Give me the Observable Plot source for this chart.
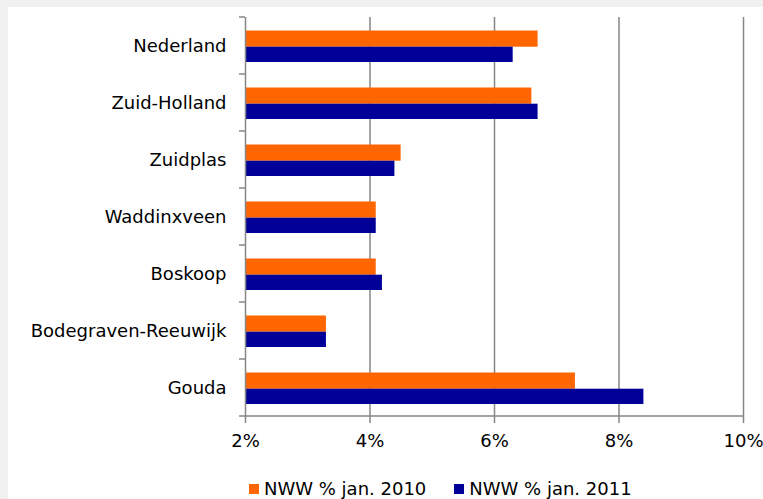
<!DOCTYPE html>
<html><head><meta charset="utf-8">
<script src="https://cdn.jsdelivr.net/npm/d3@7"></script>
<script src="https://cdn.jsdelivr.net/npm/@observablehq/plot@0.6"></script>
<style>
html,body{margin:0;padding:0;background:#f0f0f0;width:763px;height:499px;overflow:hidden;font-family:"DejaVu Sans",Verdana,sans-serif;}
#panel{position:absolute;left:8px;top:7px;width:755px;height:492px;background:#fff;overflow:hidden;}
#chart{position:absolute;left:0;top:0;}
#legend{position:absolute;left:241px;top:471px;display:flex;align-items:center;font-size:18px;color:#000;white-space:nowrap;}
.item{display:flex;align-items:center;margin-right:28px;}
.sw{width:10px;height:10px;margin-right:5px;}
</style></head><body>
<div id="panel"><div id="chart"></div><div id="legend"></div></div>
<script>
const regions = ["Nederland","Zuid-Holland","Zuidplas","Waddinxveen","Boskoop","Bodegraven-Reeuwijk","Gouda"];
const nww2010 = [6.7, 6.6, 4.5, 4.1, 4.1, 3.3, 7.3];
const nww2011 = [6.3, 6.7, 4.4, 4.1, 4.2, 3.3, 8.4];
const seriesNames = ["NWW % jan. 2010", "NWW % jan. 2011"];
const seriesColors = ["#ff6600", "#000099"];
const xTicks = [2, 4, 6, 8, 10];
const gridTicks = [4, 6, 8, 10];

const rows2010 = regions.map((r, i) => ({region: r, value: nww2010[i]}));
const rows2011 = regions.map((r, i) => ({region: r, value: nww2011[i]}));
const axisColor = "#868686";

const plot = Plot.plot({
  width: 755, height: 450,
  marginLeft: 237, marginRight: 20, marginTop: 10, marginBottom: 41,
  style: {fontFamily: '"DejaVu Sans", Verdana, sans-serif', fontSize: "18px", color: "#000", background: "transparent", overflow: "visible"},
  x: {domain: [xTicks[0], xTicks[xTicks.length - 1]]},
  y: {domain: regions, padding: 0},
  marks: [
    Plot.ruleX(gridTicks, {stroke: axisColor, strokeWidth: 1.5}),
    Plot.barX(rows2010, {x1: xTicks[0], x2: "value", y: "region", fill: seriesColors[0], insetTop: 13.5, insetBottom: 27.3}),
    Plot.barX(rows2011, {x1: xTicks[0], x2: "value", y: "region", fill: seriesColors[1], insetTop: 29.7, insetBottom: 12}),
    Plot.ruleX([xTicks[0]], {stroke: axisColor, strokeWidth: 1.5}),
    Plot.axisX({ticks: xTicks, tickFormat: d => d + "%", tickSize: 7, tickPadding: 11, stroke: axisColor, strokeWidth: 1.5, fill: "#000", label: null}),
    Plot.axisY({tickSize: 0, tickPadding: 19, fill: "#000", label: null})
  ]
});
document.getElementById("chart").appendChild(plot);

// axis baseline and category boundary ticks, from the plot's own scales
const xs = plot.scale("x"), ys = plot.scale("y");
const x0 = xs.apply(xTicks[0]), xEnd = xs.apply(xTicks[xTicks.length - 1]);
const yTop = ys.apply(regions[0]);
const bw = ys.bandwidth;
const g = d3.select(plot).append("g").attr("stroke", axisColor).attr("stroke-width", 1.5);
const yBottom = yTop + bw * regions.length;
g.append("line").attr("x1", x0).attr("x2", xEnd).attr("y1", yBottom).attr("y2", yBottom);
for (let i = 0; i <= regions.length; i++) {
  const yy = yTop + i * bw;
  g.append("line").attr("x1", x0 - 6).attr("x2", x0).attr("y1", yy).attr("y2", yy);
}

// legend
const legend = d3.select("#legend");
seriesNames.forEach((name, i) => {
  const it = legend.append("div").attr("class", "item");
  it.append("div").attr("class", "sw").style("background", seriesColors[i]);
  it.append("span").text(name);
});
</script>
</body></html>
